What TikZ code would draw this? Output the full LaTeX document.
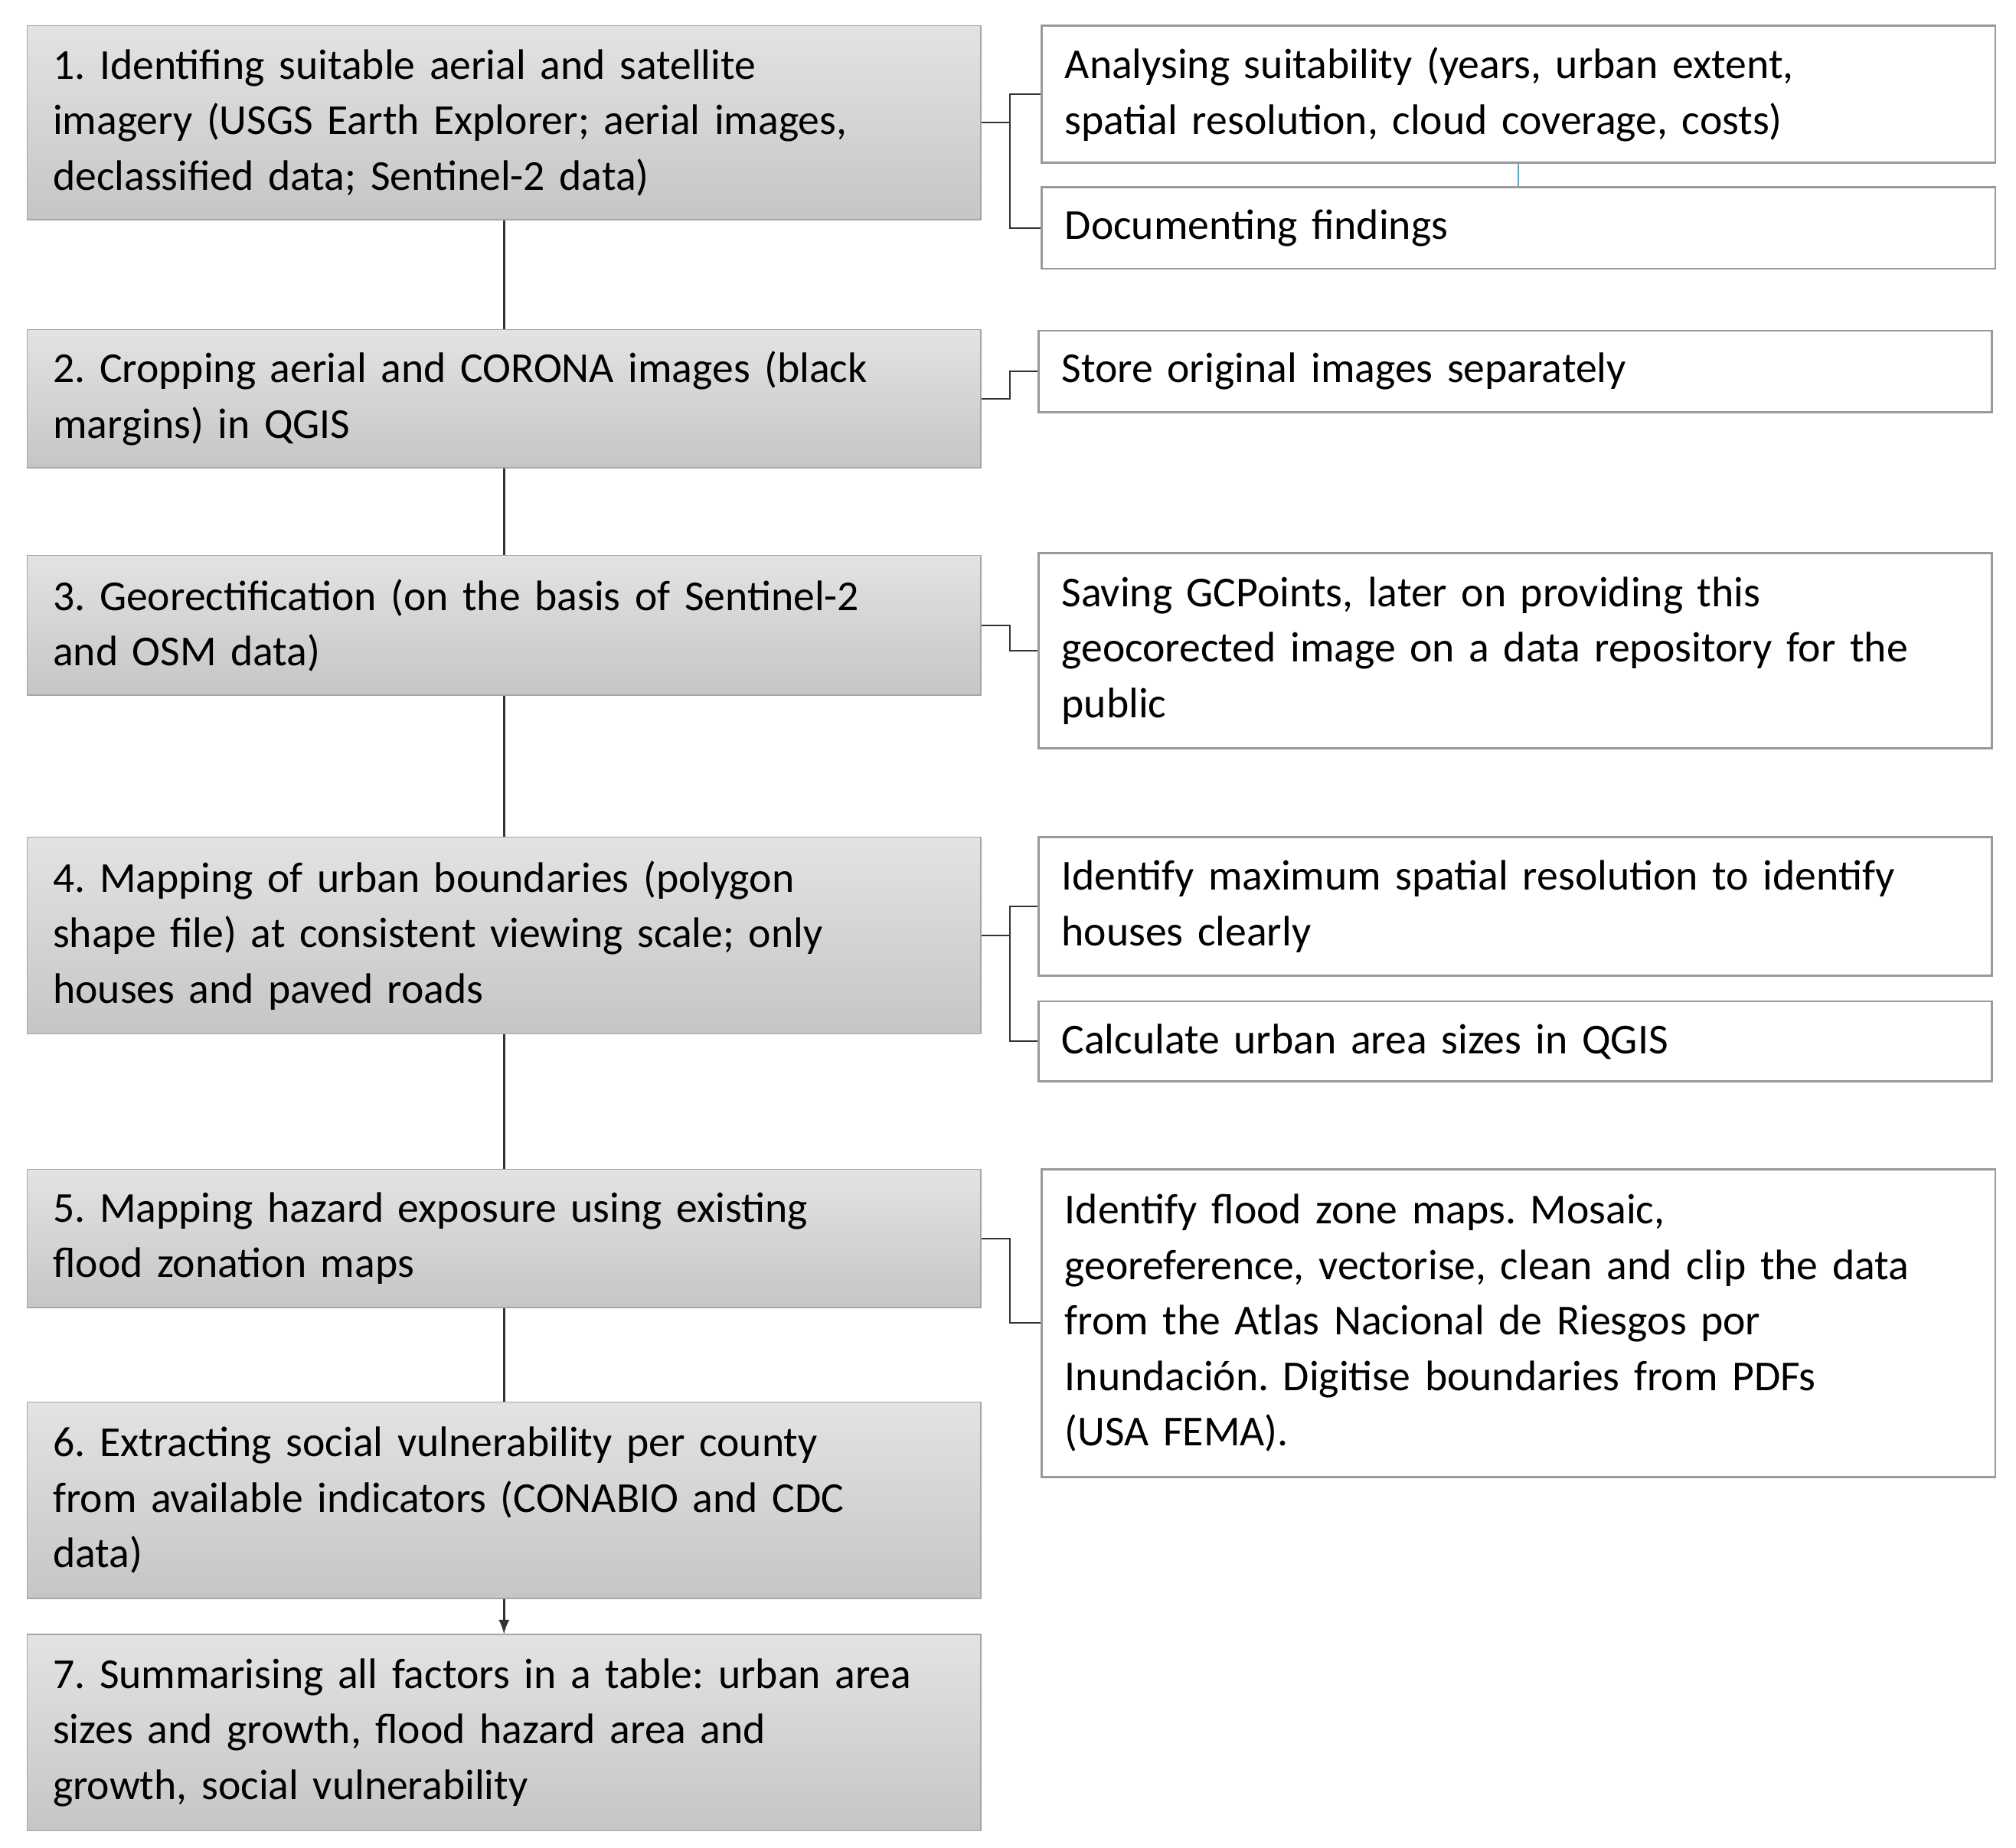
\documentclass[tikz,border=0pt]{standalone}
\usepackage{fontspec}
\setmainfont{Carlito}
\begin{document}
\begin{tikzpicture}[x=0.5pt,y=-0.5pt,
 lbox/.style={draw=gray!70,top color=gray!22,bottom color=gray!45,minimum width=369pt,text width=349pt,align=left,inner xsep=10pt,font=\fontsize{16.5}{21.5}\selectfont\frenchspacing},
 rbox/.style={draw=gray!80,line width=0.8pt,fill=white,minimum width=369pt,text width=351pt,align=left,inner xsep=9pt,font=\fontsize{16.5}{21.5}\selectfont\frenchspacing},
 ln/.style={line width=0.9pt,black!80}]
\useasboundingbox (0,0) rectangle (1560,1430);
\node[lbox,minimum height=75pt] (l1) at (390,95) {1. Identifing suitable aerial and satellite\\ imagery (USGS Earth Explorer; aerial images,\\ declassified data; Sentinel-2 data)};
\node[lbox,minimum height=53.5pt] (l2) at (390,308.5) {2. Cropping aerial and CORONA images (black\\ margins) in QGIS};
\node[lbox,minimum height=54pt] (l3) at (390,484) {3. Georectification (on the basis of Sentinel-2\\ and OSM data)};
\node[lbox,minimum height=76pt] (l4) at (390,724) {4. Mapping of urban boundaries (polygon\\ shape file) at consistent viewing scale; only\\ houses and paved roads};
\node[lbox,minimum height=53.5pt] (l5) at (390,958.5) {5. Mapping hazard exposure using existing\\ flood zonation maps};
\node[lbox,minimum height=76pt] (l6) at (390,1161) {6. Extracting social vulnerability per county\\ from available indicators (CONABIO and CDC\\ data)};
\node[lbox,minimum height=76pt] (l7) at (390,1341) {7. Summarising all factors in a table: urban area\\ sizes and growth, flood hazard area and\\ growth, social vulnerability};
\node[rbox,minimum height=53pt] (r1) at (1175,73) {Analysing suitability (years, urban extent,\\ spatial resolution, cloud coverage, costs)};
\node[rbox,minimum height=31.5pt] (r1b) at (1175,176.5) {Documenting findings};
\node[rbox,minimum height=31.5pt] (r2) at (1172.5,287.5) {Store original images separately};
\node[rbox,minimum height=75.5pt] (r3) at (1172.5,503.5) {Saving GCPoints, later on providing this\\ geocorected image on a data repository for the\\ public};
\node[rbox,minimum height=53.5pt] (r4a) at (1172.5,701.5) {Identify maximum spatial resolution to identify\\ houses clearly};
\node[rbox,minimum height=31pt] (r4b) at (1172.5,806) {Calculate urban area sizes in QGIS};
\node[rbox,minimum height=119pt] (r5) at (1175,1024) {Identify flood zone maps. Mosaic,\\ georeference, vectorise, clean and clip the data\\ from the Atlas Nacional de Riesgos por\\ Inundación. Digitise boundaries from PDFs\\ (USA FEMA).};
\draw[ln] (l1) -- (l2);
\draw[ln] (l2) -- (l3);
\draw[ln] (l3) -- (l4);
\draw[ln] (l4) -- (l5);
\draw[ln] (l5) -- (l6);
\draw[ln,-latex] (l6) -- (l7);
\draw[cyan!50!gray,line width=0.6pt] (r1) -- (r1b);
\draw[ln,line width=0.6pt] (l1.east) -- ++(22,0) |- (r1.west);
\draw[ln,line width=0.6pt] (l1.east) ++(22,0) |- (r1b.west);
\draw[ln,line width=0.6pt] (l2.east) -- ++(22,0) |- (r2.west);
\draw[ln,line width=0.6pt] (l3.east) -- ++(22,0) |- (r3.west);
\draw[ln,line width=0.6pt] (l4.east) -- ++(22,0) |- (r4a.west);
\draw[ln,line width=0.6pt] (l4.east) ++(22,0) |- (r4b.west);
\draw[ln,line width=0.6pt] (l5.east) -- ++(22,0) |- (r5.west);
\end{tikzpicture}
\end{document}
